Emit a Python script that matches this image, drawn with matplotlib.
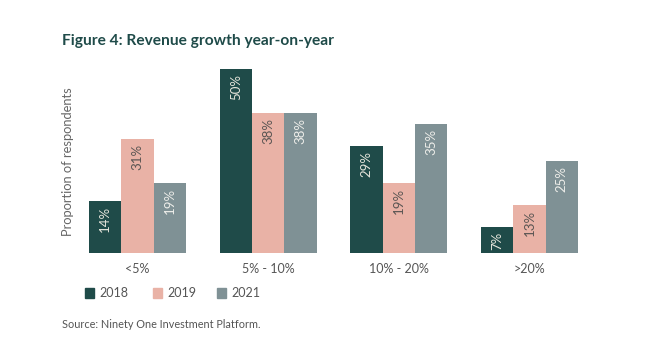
import matplotlib.pyplot as plt
import numpy as np

plt.rcParams['font.family'] = ['Lato', 'DejaVu Sans']

# Data
categories = ['<5%', '5% - 10%', '10% - 20%', '>20%']
years = ['2018', '2019', '2021']
vals_2018 = [14, 50, 29, 7]
vals_2019 = [31, 38, 19, 13]
vals_2021 = [19, 38, 35, 25]

colors = ['#1f4b49', '#e9b2a6', '#7f9195']
label_colors = ['#e6e6dc', '#5a5553', '#eeeeea']

fig = plt.figure(figsize=(6.6, 3.61), dpi=100)
ax = fig.add_axes([89 / 660, 1 - 253 / 361, (578 - 89) / 660, (253 - 69) / 361])

x = np.arange(len(categories))
w = 0.247
series = [vals_2018, vals_2019, vals_2021]
for i, vals in enumerate(series):
    bars = ax.bar(x + (i - 1) * w, vals, w, color=colors[i], label=years[i], linewidth=0)
    for b, v in zip(bars, vals):
        ax.annotate(f'{v}%', (b.get_x() + b.get_width() / 2, v), xytext=(0, -3.5),
                    textcoords='offset points', ha='center', va='top', rotation=90,
                    fontsize=9.5, color=label_colors[i])

ax.set_xlim(-1.5 * w, 3 + 1.5 * w)
ax.set_ylim(0, 50)
for s in ax.spines.values():
    s.set_visible(False)
ax.set_yticks([])
ax.set_xticks(x)
ax.set_xticklabels(categories, fontsize=9, color='#555555')
ax.tick_params(axis='x', length=0, pad=7)

fig.text(68 / 660, 1 - 162 / 361, 'Proportion of respondents', rotation=90,
         ha='center', va='center', fontsize=9.3, color='#666666')

fig.text(62 / 660, 1 - 41 / 361, 'Figure 4: Revenue growth year-on-year',
         ha='left', va='center', fontsize=11.2, fontweight='bold', color='#1f4b49')

# legend
leg_x = [85, 153, 217]
for i, yr in enumerate(years):
    fig.patches.append(plt.Rectangle((leg_x[i] / 660, 1 - 298 / 361), 9 / 660, 10 / 361,
                                     transform=fig.transFigure, color=colors[i]))
    fig.text((leg_x[i] + 14) / 660, 1 - 293 / 361, yr, ha='left', va='center',
             fontsize=9, color='#555555')

fig.text(62 / 660, 1 - 325 / 361, 'Source: Ninety One Investment Platform.',
         ha='left', va='center', fontsize=7.8, color='#555555')

plt.savefig('out.png', dpi=100)
